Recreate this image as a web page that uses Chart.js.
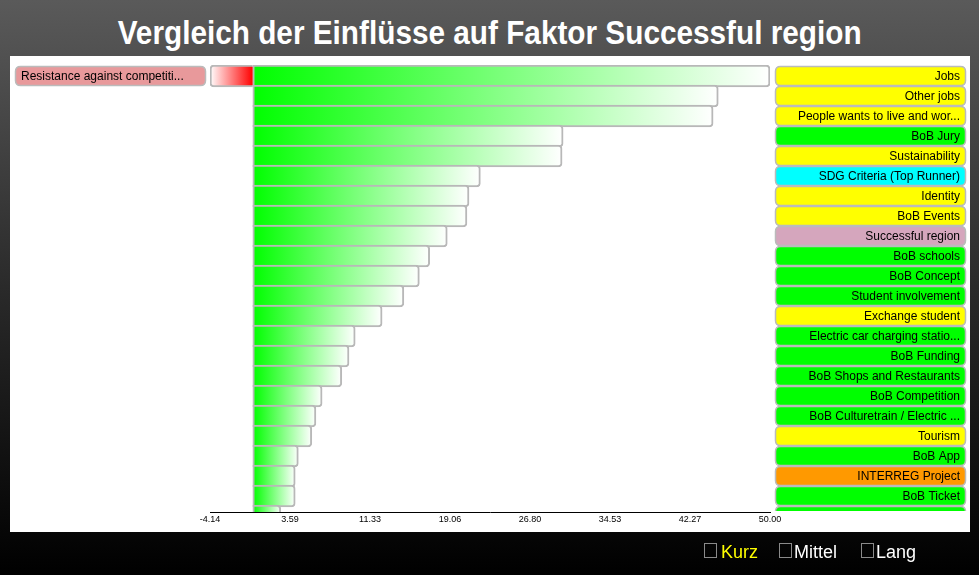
<!DOCTYPE html>
<html>
<head>
<meta charset="utf-8">
<script src="https://cdn.jsdelivr.net/npm/chart.js@4/dist/chart.umd.min.js"></script>
<style>
  html, body { margin:0; padding:0; width:979px; height:575px; overflow:hidden;
    background: linear-gradient(180deg, #5a5a5a 0%, #2a2a2a 50%, #000000 100%);
    font-family: "Liberation Sans", Arial, sans-serif; }
  #panel { position:absolute; left:10px; top:56px; width:960px; height:476px; background:#ffffff; }
  #title { position:absolute; left:0; top:16px; width:979px; text-align:center; color:#ffffff;
    font: bold 33px "Liberation Sans", Arial, sans-serif; line-height:33px; white-space:nowrap; }
  #titleText { display:inline-block; transform-origin:50% 50%; }
  #chartWrap { position:absolute; left:0; top:0; width:979px; height:575px; }
  .cb { position:absolute; width:13px; height:15px; border:1px solid #8a8a8a; box-sizing:border-box; top:543px; }
  .lg { position:absolute; top:543px; font-size:18px; line-height:18px; color:#ffffff; white-space:nowrap; }
</style>
</head>
<body>
<div id="panel"></div>
<div id="title"><span id="titleText">Vergleich der Einflüsse auf Faktor Successful region</span></div>
<div id="chartWrap"><canvas id="c" width="979" height="575"></canvas></div>
<div class="cb" style="left:704px"></div><div class="lg" style="left:721px;color:#ffff00">Kurz</div>
<div class="cb" style="left:779px"></div><div class="lg" style="left:794px">Mittel</div>
<div class="cb" style="left:861px"></div><div class="lg" style="left:876px">Lang</div>
<script>
// ---- data ----
const categories = [
  'Jobs', 'Other jobs', 'People wants to live and wor...', 'BoB Jury', 'Sustainability',
  'SDG Criteria (Top Runner)', 'Identity', 'BoB Events', 'Successful region', 'BoB schools',
  'BoB Concept', 'Student involvement', 'Exchange student', 'Electric car charging statio...',
  'BoB Funding', 'BoB Shops and Restaurants', 'BoB Competition', 'BoB Culturetrain / Electric ...',
  'Tourism', 'BoB App', 'INTERREG Project', 'BoB Ticket', 'BoB Bridge'
];
const values = [
  50.0, 45.0, 44.5, 30.0, 29.9,
  22.0, 20.9, 20.7, 18.8, 17.1,
  16.1, 14.6, 12.5, 9.9,
  9.3, 8.6, 6.7, 6.1,
  5.7, 4.4, 4.1, 4.1, 2.7
];
const negativeLabels = ['Resistance against competiti...'];
const negativeValues = [-4.14];
const negativeRows = [0];
const tickValues = [-4.14, 3.59, 11.33, 19.06, 26.80, 34.53, 42.27, 50.00];
const tickLabels = ['-4.14', '3.59', '11.33', '19.06', '26.80', '34.53', '42.27', '50.00'];

// ---- styles ----
const Y = '#ffff00', G = '#00ff00', C = '#00ffff', P = '#d5a6bd', O = '#ff9900';
const labelColors = [Y, Y, Y, G, Y, C, Y, Y, P, G, G, G, Y, G, G, G, G, G, Y, G, O, G, G];
const negativeLabelColor = '#e8999b';

// fit title width
(function(){
  const t = document.getElementById('titleText');
  const w = t.getBoundingClientRect().width;
  t.style.transform = 'scaleX(' + (744 / w) + ')';
})();

function gradientFill(startColor, endColor) {
  return function(ctx) {
    const chart = ctx.chart;
    if (!chart.chartArea || ctx.type !== 'data') return startColor;
    const xs = chart.scales.x;
    const x0 = xs.getPixelForValue(0);
    const x1 = xs.getPixelForValue(ctx.parsed.x);
    if (!isFinite(x0) || !isFinite(x1) || x0 === x1) return startColor;
    const g = chart.ctx.createLinearGradient(x0, 0, x1, 0);
    g.addColorStop(0, startColor);
    g.addColorStop(1, endColor);
    return g;
  };
}

function rr(ctx, x, y, w, h, r) {
  ctx.beginPath();
  ctx.moveTo(x + r, y);
  ctx.lineTo(x + w - r, y);
  ctx.quadraticCurveTo(x + w, y, x + w, y + r);
  ctx.lineTo(x + w, y + h - r);
  ctx.quadraticCurveTo(x + w, y + h, x + w - r, y + h);
  ctx.lineTo(x + r, y + h);
  ctx.quadraticCurveTo(x, y + h, x, y + h - r);
  ctx.lineTo(x, y + r);
  ctx.quadraticCurveTo(x, y, x + r, y);
  ctx.closePath();
}

const labelPlugin = {
  id: 'rowLabels',
  afterDatasetsDraw(chart) {
    const ctx = chart.ctx, ys = chart.scales.y, area = chart.chartArea;
    ctx.save();
    ctx.beginPath();
    ctx.rect(0, area.top - 2, chart.width, area.bottom - area.top + 1);
    ctx.clip();
    ctx.font = '12px "Liberation Sans", Arial, sans-serif';
    ctx.textBaseline = 'middle';
    categories.forEach((lab, i) => {
      const yc = ys.getPixelForValue(i);
      rr(ctx, 775.5, yc - 9.5, 190, 19, 5);
      ctx.fillStyle = labelColors[i];
      ctx.fill();
      ctx.lineWidth = 1.5;
      ctx.strokeStyle = '#bbbbbb';
      ctx.stroke();
      ctx.fillStyle = '#000000';
      ctx.textAlign = 'right';
      ctx.fillText(lab, 960, yc + 0.5);
    });
    negativeLabels.forEach((lab, i) => {
      const yc = ys.getPixelForValue(negativeRows[i]);
      rr(ctx, 15.5, yc - 9.5, 190, 19, 5);
      ctx.fillStyle = negativeLabelColor;
      ctx.fill();
      ctx.lineWidth = 1.5;
      ctx.strokeStyle = '#bbbbbb';
      ctx.stroke();
      ctx.fillStyle = '#000000';
      ctx.textAlign = 'left';
      ctx.fillText(lab, 21, yc + 0.5);
    });
    ctx.restore();
  }
};

new Chart(document.getElementById('c'), {
  type: 'bar',
  data: {
    datasets: [
      {
        data: values.map((v, i) => ({ x: v, y: i })),
        backgroundColor: gradientFill('#00ff00', '#ffffff'),
        borderColor: '#b8b8b8',
        borderWidth: 2,
        borderSkipped: false,
        borderRadius: { topLeft: 0, bottomLeft: 0, topRight: 4, bottomRight: 4 },
        barThickness: 22,
        grouped: false,
        clip: 0
      },
      {
        data: negativeValues.map((v, i) => ({ x: v, y: negativeRows[i] })),
        backgroundColor: gradientFill('#ff0000', '#ffffff'),
        borderColor: '#b8b8b8',
        borderWidth: 2,
        borderSkipped: 'start',
        borderRadius: { topLeft: 4, bottomLeft: 4, topRight: 0, bottomRight: 0 },
        barThickness: 22,
        grouped: false,
        clip: 0
      }
    ]
  },
  options: {
    indexAxis: 'y',
    responsive: false,
    animation: false,
    events: [],
    layout: { padding: { left: 210, right: 209, top: 65, bottom: 43 } },
    plugins: { legend: { display: false }, tooltip: { enabled: false }, title: { display: false } },
    scales: {
      x: {
        type: 'linear',
        min: tickValues[0],
        max: tickValues[tickValues.length - 1],
        grid: { display: false, drawTicks: false },
        border: { display: true, color: '#000000', width: 1 },
        afterBuildTicks: (s) => { s.ticks = tickValues.map(v => ({ value: v })); },
        afterFit: (s) => { s.height = 20; },
        ticks: {
          autoSkip: false, maxRotation: 0, minRotation: 0,
          color: '#000000', padding: 2,
          font: { size: 9, family: '"Liberation Sans", Arial, sans-serif' },
          callback: (v, i) => tickLabels[i]
        }
      },
      y: {
        type: 'linear',
        reverse: true,
        offset: false,
        min: -0.55,
        max: 21.8,
        display: false
      }
    }
  },
  plugins: [labelPlugin]
});
</script>
</body>
</html>
